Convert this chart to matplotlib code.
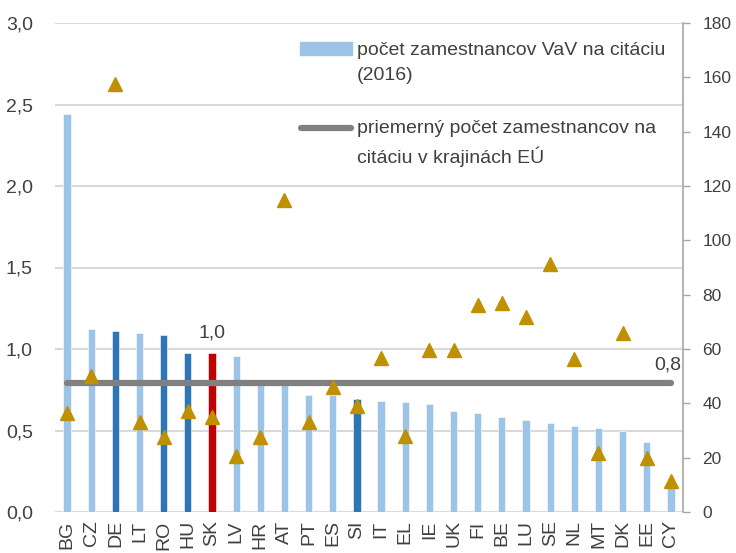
import matplotlib
matplotlib.use("Agg")
import matplotlib.pyplot as plt
from matplotlib.patches import Rectangle
from matplotlib.lines import Line2D

plt.rcParams['font.family'] = ['Liberation Sans', 'DejaVu Sans']

countries = ["BG", "CZ", "DE", "LT", "RO", "HU", "SK", "LV", "HR", "AT", "PT", "ES", "SI",
             "IT", "EL", "IE", "UK", "FI", "BE", "LU", "SE", "NL", "MT", "DK", "EE", "CY"]
staff_per_citation = [2.44, 1.12, 1.11, 1.10, 1.085, 0.975, 0.975, 0.955, 0.80, 0.79, 0.72, 0.716, 0.693,
                      0.68, 0.677, 0.664, 0.62, 0.609, 0.583, 0.566, 0.546, 0.528, 0.517, 0.499, 0.431, 0.17]
citations_right = [36.5, 50, 157.5, 33, 27.5, 37, 35, 20.5, 27.7, 115, 33, 46, 39,
                   56.6, 28, 59.6, 59.6, 76.2, 76.8, 71.9, 91.3, 56.2, 21.8, 65.8, 19.8, 11.5]
eu_average = 0.79
highlight = {"DE": "dark", "RO": "dark", "HU": "dark", "SI": "dark", "SK": "red"}
left_ticks = [0.0, 0.5, 1.0, 1.5, 2.0, 2.5, 3.0]
left_ticklabels = ["0,0", "0,5", "1,0", "1,5", "2,0", "2,5", "3,0"]
right_ticks = [0, 20, 40, 60, 80, 100, 120, 140, 160, 180]
legend_labels = ["počet zamestnancov VaV na citáciu\n(2016)",
                 "priemerný počet zamestnancov na\ncitáciu v krajinách EÚ"]

LIGHT = "#9DC3E6"
DARK = "#2E75B6"
RED = "#C00000"
GOLD = "#BF9000"
GREY = "#808080"
TXT = "#404040"
FS = 14

fig = plt.figure(figsize=(7.36, 5.53), dpi=100)
ax = fig.add_axes([55/736, 41/553, 628/736, 489/553])
ax2 = ax.twinx()

x = list(range(len(countries)))
colors = []
for c in countries:
    h = highlight.get(c)
    colors.append(DARK if h == "dark" else RED if h == "red" else LIGHT)

ax.bar(x, staff_per_citation, width=0.3, color=colors, edgecolor="white", linewidth=0.4, zorder=2)
ax.plot([x[0], x[-1]], [eu_average, eu_average], color=GREY, linewidth=4.5,
        solid_capstyle="round", zorder=3)
ax2.plot(x, citations_right, linestyle="none", marker="^", markersize=10,
         color=GOLD, zorder=4)

ax.set_xlim(-0.5, len(countries) - 0.5)
ax.set_ylim(0, 3.0)
ax2.set_ylim(0, 180)

ax.set_yticks(left_ticks)
ax.set_yticklabels(left_ticklabels)
ax.yaxis.grid(True, color="#D9D9D9", linewidth=1.5, zorder=0)
ax.set_axisbelow(True)
ax.set_xticks(x)
ax.set_xticklabels(countries, rotation=90)
ax.tick_params(axis="x", length=0, pad=6, labelsize=FS, colors=TXT)
ax.tick_params(axis="y", length=0, pad=16, labelsize=FS, colors=TXT)

ax2.set_yticks(right_ticks)
ax2.tick_params(axis="y", length=5, width=1, color="#A6A6A6", pad=9,
                labelsize=12.5, labelcolor=TXT, direction="out")

for a in (ax, ax2):
    for s in ("top", "left", "bottom"):
        a.spines[s].set_visible(False)
ax.spines["right"].set_visible(False)
ax2.spines["right"].set_color("#A6A6A6")
ax2.spines["right"].set_linewidth(1.2)

sk = countries.index("SK")
ax.text(sk, staff_per_citation[sk] + 0.07, "1,0", ha="center", va="bottom",
        fontsize=FS, color=TXT)
ax.text(x[-1] + 0.42, eu_average + 0.06, "0,8", ha="right", va="bottom",
        fontsize=FS, color=TXT)

# legend drawn in figure pixels
fig.patches.append(Rectangle((300/736, 1 - 55/553), 52/736, 13/553,
                             transform=fig.transFigure, color=LIGHT))
fig.lines.append(Line2D([301/736, 351/736], [1 - 128/553, 1 - 128/553],
                        transform=fig.transFigure, color=GREY, linewidth=4.5,
                        solid_capstyle="round"))
fig.text(357/736, 1 - 42/553, legend_labels[0], ha="left", va="top",
         fontsize=FS, color=TXT, linespacing=1.6)
fig.text(357/736, 1 - 120/553, legend_labels[1], ha="left", va="top",
         fontsize=FS, color=TXT, linespacing=1.6)

fig.savefig("out.png", dpi=100)
